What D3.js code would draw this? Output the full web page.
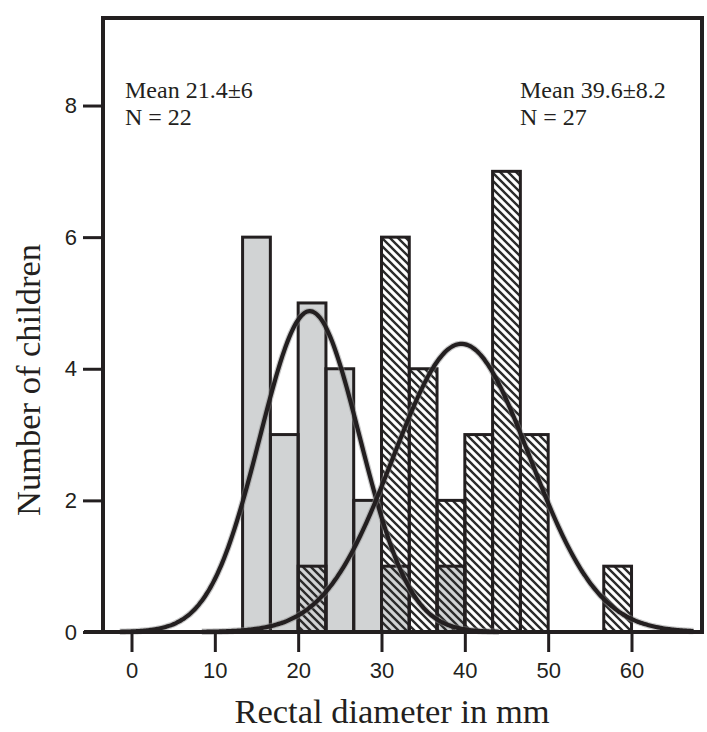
<!DOCTYPE html>
<html>
<head>
<meta charset="utf-8">
<script src="https://cdn.jsdelivr.net/npm/d3@7"></script>
<style>
  body { margin: 0; background: #fff; }
  svg { display: block; }
</style>
</head>
<body>
<svg id="chart" width="707" height="732"></svg>
<script>
// bins are 10/3 mm wide, given by their left edge
var binWidth = 10 / 3;
var binStarts = [13.33, 16.67, 20, 23.33, 26.67, 30, 33.33, 36.67, 40, 43.33, 46.67, 50, 53.33, 56.67];
var countsA = [6, 3, 5, 4, 2, 1, 0, 1, 0, 0, 0, 0, 0, 0];   // grey group
var countsB = [0, 0, 1, 0, 0, 6, 4, 2, 3, 7, 3, 0, 0, 1];   // hatched group
var fitA = { mean: 21.4, sd: 6, n: 22 };
var fitB = { mean: 39.6, sd: 8.2, n: 27 };
var xTicks = [0, 10, 20, 30, 40, 50, 60];
var yTicks = [0, 2, 4, 6, 8];
var labelA = ["Mean 21.4\u00b16", "N = 22"];
var labelB = ["Mean 39.6\u00b18.2", "N = 27"];

(function () {
  var ink = "#231f20";
  var grey = "#d1d3d4";
  var pl = 103, pr = 702, pt = 18, pb = 632;

  var svg = d3.select("#chart");

  var x = d3.scaleLinear().domain([-3.42, 68.46]).range([pl, pr]);
  var y = d3.scaleLinear().domain([0, 9.33]).range([pb, pt]);

  var defs = svg.append("defs");
  defs.append("pattern")
    .attr("id", "hatch")
    .attr("patternUnits", "userSpaceOnUse")
    .attr("width", 8).attr("height", 8)
    .append("path")
    .attr("d", "M-1,-1 L9,9 M-1,7 L1,9 M7,-1 L9,1")
    .attr("stroke", "#2b2b2b")
    .attr("stroke-width", 2.4);

  function bars(counts) {
    return binStarts.map(function (s, i) { return { x0: s, x1: s + binWidth, n: counts[i] }; })
      .filter(function (d) { return d.n > 0; });
  }
  var barsA = bars(countsA), barsB = bars(countsB);

  function place(sel) {
    sel.attr("x", function (d) { return x(d.x0); })
      .attr("width", function (d) { return x(d.x1) - x(d.x0); })
      .attr("y", function (d) { return y(d.n); })
      .attr("height", function (d) { return y(0) - y(d.n); });
  }

  // white backing for hatched bars, then grey bars, then hatch on top
  svg.append("g").selectAll("rect").data(barsB).enter().append("rect")
    .call(place).attr("fill", "#fff");
  svg.append("g").selectAll("rect").data(barsA).enter().append("rect")
    .call(place).attr("fill", grey);
  svg.append("g").selectAll("rect").data(barsB).enter().append("rect")
    .call(place).attr("fill", "url(#hatch)");
  svg.append("g").selectAll("rect").data(barsA.concat(barsB)).enter().append("rect")
    .call(place).attr("fill", "none").attr("stroke", ink).attr("stroke-width", 3);

  // fitted normal curves scaled to counts per bin
  function curve(f) {
    var pts = d3.range(f.mean - 3.8 * f.sd, Math.min(f.mean + 3.8 * f.sd, 67.5), 0.25);
    return pts.map(function (v) {
      var z = (v - f.mean) / f.sd;
      return [v, f.n * binWidth * Math.exp(-0.5 * z * z) / (f.sd * Math.sqrt(2 * Math.PI))];
    });
  }
  var line = d3.line().x(function (d) { return x(d[0]); }).y(function (d) { return y(d[1]); }).curve(d3.curveBasis);
  [fitA, fitB].forEach(function (f) {
    svg.append("path").datum(curve(f)).attr("d", line)
      .attr("fill", "none").attr("stroke", "#888").attr("stroke-width", 6.5).attr("opacity", 0.45);
    svg.append("path").datum(curve(f)).attr("d", line)
      .attr("fill", "none").attr("stroke", ink).attr("stroke-width", 4.2);
  });

  // frame
  svg.append("path")
    .attr("d", "M" + pl + "," + pb + "V" + pt + "H" + pr + "V" + pb)
    .attr("fill", "none").attr("stroke", ink).attr("stroke-width", 4);
  svg.append("line")
    .attr("x1", 84).attr("x2", pr + 2).attr("y1", pb).attr("y2", pb)
    .attr("stroke", ink).attr("stroke-width", 4);

  // axes
  var xAxis = svg.append("g").attr("transform", "translate(0," + pb + ")")
    .call(d3.axisBottom(x).tickValues(xTicks).tickSize(20).tickPadding(10));
  var yAxis = svg.append("g").attr("transform", "translate(" + pl + ",0)")
    .call(d3.axisLeft(y).tickValues(yTicks).tickSize(20).tickPadding(6));
  [xAxis, yAxis].forEach(function (a) {
    a.select(".domain").remove();
    a.selectAll(".tick line").attr("stroke", ink).attr("stroke-width", 3);
    a.selectAll(".tick text").attr("fill", ink)
      .style("font-family", "'Liberation Sans', Arial, sans-serif").style("font-size", "22px");
  });

  // titles
  var serif = "'Liberation Serif', 'Times New Roman', serif";
  svg.append("text").attr("x", 392).attr("y", 723).attr("text-anchor", "middle")
    .attr("fill", ink).style("font-family", serif).style("font-size", "34.5px")
    .text("Rectal diameter in mm");
  svg.append("text").attr("transform", "translate(40,380) rotate(-90)").attr("text-anchor", "middle")
    .attr("fill", ink).style("font-family", serif).style("font-size", "34.5px")
    .text("Number of children");

  function note(lines, x0) {
    svg.append("g").selectAll("text").data(lines).enter().append("text")
      .attr("x", x0).attr("y", function (d, i) { return 97.5 + i * 27; })
      .attr("fill", ink).style("font-family", serif).style("font-size", "24px")
      .text(function (d) { return d; });
  }
  note(labelA, 125);
  note(labelB, 520);
})();
</script>
</body>
</html>
